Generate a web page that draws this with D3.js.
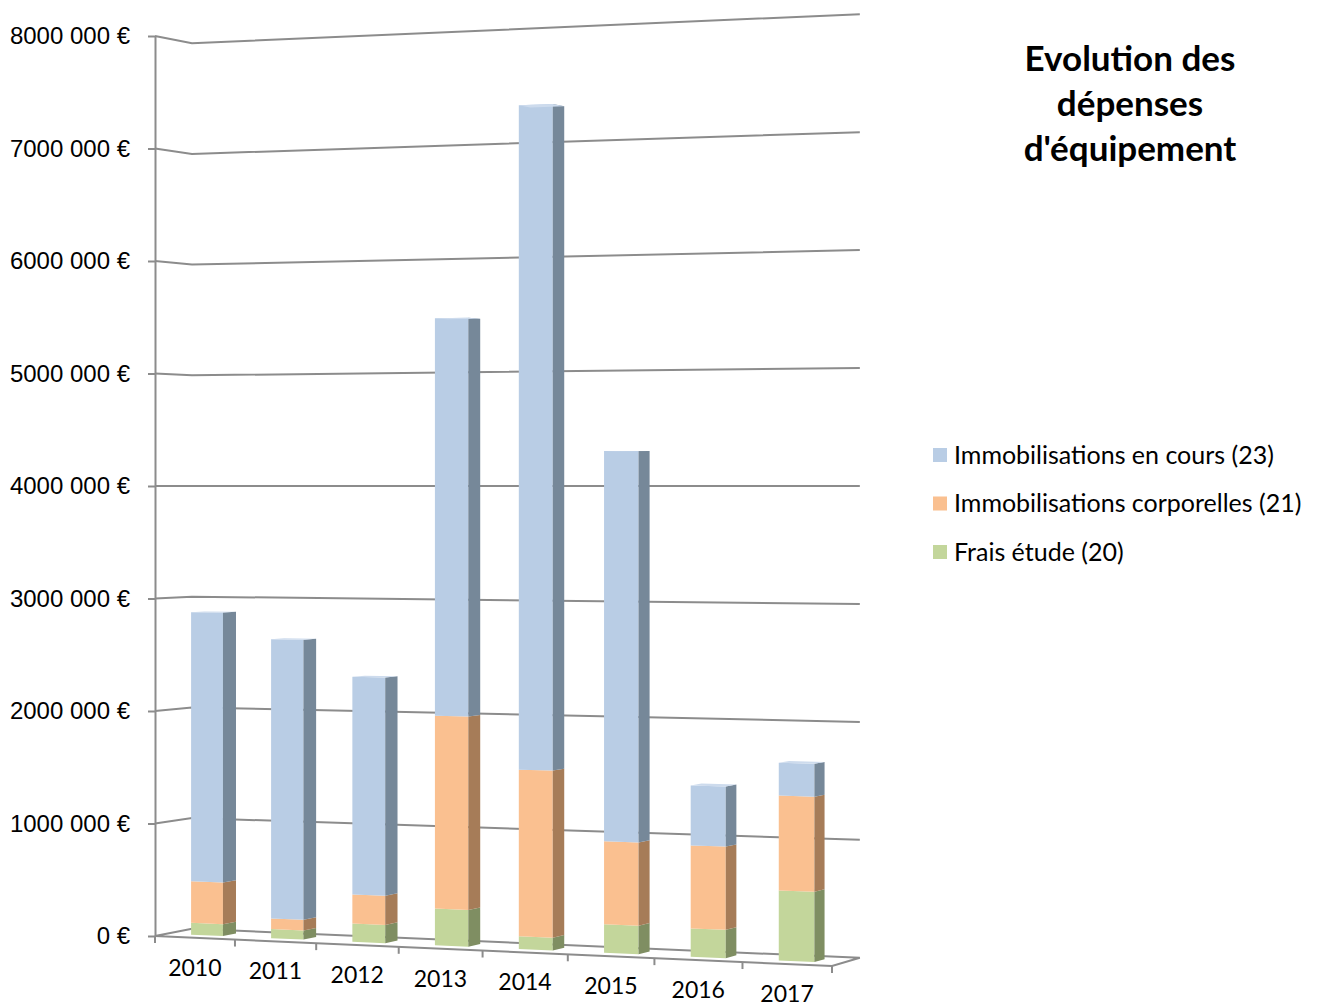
<!DOCTYPE html>
<html>
<head>
<meta charset="utf-8">
<script src="https://cdn.jsdelivr.net/npm/d3@7/dist/d3.min.js"></script>
<style>
  body { margin: 0; background: #fff; }
  svg { display: block; font-family: Lato, "Open Sans", sans-serif; }
  .axis path, .axis line { stroke: #8c8c8c; stroke-width: 2; }
  .axis text { fill: #000; }
</style>
</head>
<body>
<svg id="chart" width="1318" height="1007"></svg>
<script>
const years = ['2010', '2011', '2012', '2013', '2014', '2015', '2016', '2017'];
const fraisEtude = [105000, 80000, 160000, 320000, 110000, 245000, 240000, 590000];
const corporelles = [370000, 95000, 255000, 1680000, 1440000, 710000, 705000, 800000];
const enCours = [2400000, 2470000, 1910000, 3460000, 5740000, 3345000, 510000, 277000];
const yTicks = [0, 1000000, 2000000, 3000000, 4000000, 5000000, 6000000, 7000000, 8000000];

const seriesNames = ['Immobilisations en cours (23)', 'Immobilisations corporelles (21)', 'Frais étude (20)'];
const keys = ['frais', 'corp', 'cours'];
const colors = {
  frais: {front: '#c3d69b', side: '#7f8e62', top: '#d3e2b0'},
  corp:  {front: '#fac090', side: '#a67c58', top: '#fcd2ad'},
  cours: {front: '#b9cde5', side: '#768899', top: '#cddbed'},
};

const table = years.map((year, i) => ({
  year: year, frais: fraisEtude[i], corp: corporelles[i], cours: enCours[i],
}));

const svg = d3.select('#chart');

// value scale of the front-left edge (where the axis sits)
const y = d3.scaleLinear().domain([0, 8000000]).range([936, 36]);
// category scale along the floor, 0..1
const x = d3.scaleBand().domain(years).range([0, 1]).paddingInner(0.6).paddingOuter(0.3);

// simple perspective: u along categories, d depth (0 front, 1 back)
const horizon = y(4000000);
function project(u, v, d) {
  const w = 1 - 0.0625 * u + 0.0163 * d;
  return [(155 + 625 * u + 40.1 * d) / w, horizon + (y(v) - horizon) / w];
}
const line = d3.line();

// walls + gridlines
const grid = svg.append('g').attr('fill', 'none').attr('stroke', '#8c8c8c').attr('stroke-width', 2);
grid.selectAll('path.grid')
  .data(yTicks.filter(v => v > 0))
  .join('path')
  .attr('class', 'grid')
  .attr('d', v => line([project(0, v, 0), project(0, v, 1), project(1, v, 1)]));

grid.append('path')
  .attr('d', line([project(0, 0, 0), project(0, 0, 1), project(1, 0, 1), project(1, 0, 0)]) + 'Z');

grid.selectAll('path.xtick')
  .data(d3.range(0, 9).map(k => k / 8))
  .join('path')
  .attr('class', 'xtick')
  .attr('d', u => {
    const p = project(u, 0, 0);
    return line([p, [p[0], p[1] + 7]]);
  });

// y axis
svg.append('g')
  .attr('class', 'axis')
  .attr('transform', 'translate(155,0)')
  .call(d3.axisLeft(y)
    .tickValues(yTicks)
    .tickSize(7)
    .tickSizeOuter(0)
    .tickPadding(18)
    .tickFormat(v => v === 0 ? '0 €' : `${v / 1000} 000 €`))
  .call(g => g.selectAll('text').attr('font-size', 24));

// year labels
svg.append('g')
  .selectAll('text')
  .data(years)
  .join('text')
  .attr('text-anchor', 'middle')
  .attr('font-size', 23)
  .attr('x', d => project(x(d) + x.bandwidth() / 2, 0, 0)[0])
  .attr('y', d => project(x(d) + x.bandwidth() / 2, 0, 0)[1] + 30)
  .attr('dy', '.35em')
  .text(d => d);

// bars
const stacked = d3.stack().keys(keys)(table);
const df = 0.33, db = 0.69;
const bars = svg.append('g');

stacked.forEach((layer, li) => {
  const c = colors[layer.key];
  layer.forEach(seg => {
    const u0 = x(seg.data.year), u1 = u0 + x.bandwidth();
    const v0 = seg[0], v1 = seg[1];
    const g = bars.append('g');
    g.append('path')
      .attr('fill', c.front)
      .attr('d', line([project(u0, v0, df), project(u1, v0, df), project(u1, v1, df), project(u0, v1, df)]) + 'Z');
    g.append('path')
      .attr('fill', c.side)
      .attr('d', line([project(u1, v0, df), project(u1, v0, db), project(u1, v1, db), project(u1, v1, df)]) + 'Z');
    if (li === keys.length - 1) {
      g.append('path')
        .attr('fill', c.top)
        .attr('d', line([project(u0, v1, df), project(u1, v1, df), project(u1, v1, db), project(u0, v1, db)]) + 'Z');
    }
  });
});

// title
svg.append('text')
  .attr('x', 1130)
  .attr('y', 71)
  .attr('text-anchor', 'middle')
  .attr('font-size', 35)
  .attr('font-weight', 'bold')
  .selectAll('tspan')
  .data(['Evolution des', 'dépenses', "d'équipement"])
  .join('tspan')
  .attr('x', 1130)
  .attr('dy', (d, i) => i ? 45 : 0)
  .text(d => d);

// legend
const legend = svg.append('g')
  .selectAll('g')
  .data(seriesNames)
  .join('g')
  .attr('transform', (d, i) => `translate(933,${455 + i * 48.5})`);
legend.append('rect')
  .attr('y', -7).attr('width', 14).attr('height', 14)
  .attr('fill', (d, i) => colors[['cours', 'corp', 'frais'][i]].front);
legend.append('text')
  .attr('x', 21)
  .attr('dy', '.35em')
  .attr('font-size', 25)
  .text(d => d);
</script>
</body>
</html>
